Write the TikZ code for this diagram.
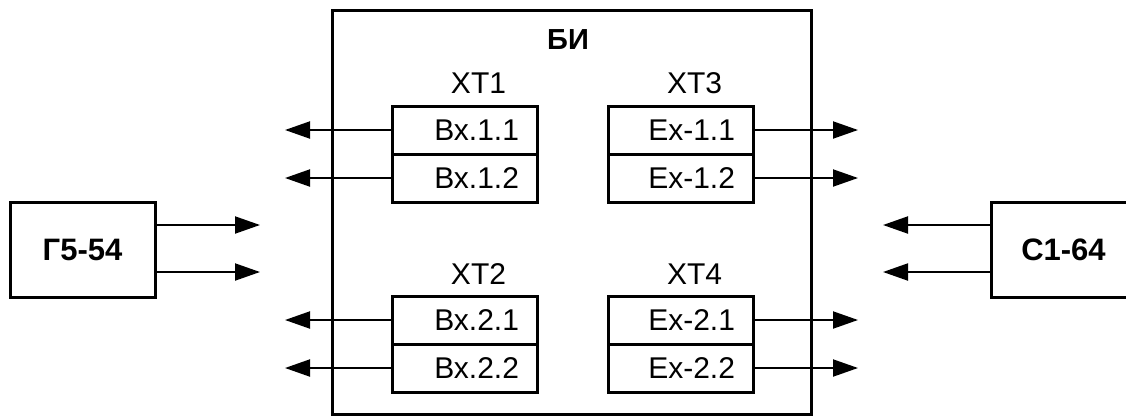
\documentclass[tikz,border=0pt]{standalone}
\usepackage{fontspec}
\setmainfont{Liberation Sans}
\usetikzlibrary{arrows.meta,positioning}

\begin{document}
\begin{tikzpicture}[x=1pt,y=-1pt]
    % `block' is used for the two instruments (left and right).
    % `pin' is one row of a terminal strip, `strip' its title.
    % `wire' is used for all the signal arrows.
    \tikzstyle{block} = [draw,line width=3pt,minimum width=145pt,minimum height=95pt,font=\fontsize{31}{35}\selectfont\bfseries]
    \tikzstyle{pin} = [draw,line width=3pt,outer sep=0pt,minimum height=48pt,inner xsep=18pt,inner ysep=0pt,text width=109pt,align=right,font=\fontsize{30}{34}\selectfont]
    \tikzstyle{strip} = [inner sep=0pt,font=\fontsize{30}{34}\selectfont]
    \tikzstyle{wire} = [line width=2pt,-{Triangle[length=25pt,width=17pt]}]
    \clip (0,0) rectangle (1126,416);
    %
    % Unit box.
    \node[draw,line width=3pt,minimum width=479pt,minimum height=404pt] (bi) at (571.5,212) {};
    \node[inner sep=0pt,font=\fontsize{29}{33}\selectfont\bfseries] (bititle) at (568,40) {БИ};
    %
    % Terminal strips.
    \node[pin] (b11) at (464.5,130) {Вх.1.1};
    \node[pin,below=0pt of b11] (b12) {Вх.1.2};
    \node[pin,below=94pt of b12] (b21) {Вх.2.1};
    \node[pin,below=0pt of b21] (b22) {Вх.2.2};
    \node[pin,right=71pt of b11] (e11) {Ex-1.1};
    \node[pin,below=0pt of e11] (e12) {Ex-1.2};
    \node[pin,right=71pt of b21] (e21) {Ex-2.1};
    \node[pin,below=0pt of e21] (e22) {Ex-2.2};
    \node[strip,above=12pt of b11,xshift=14pt] (xt1) {ХТ1};
    \node[strip,above=11pt of b21,xshift=14pt] (xt2) {ХТ2};
    \node[strip,above=12pt of e11,xshift=14pt] (xt3) {ХТ3};
    \node[strip,above=11pt of e21,xshift=14pt] (xt4) {ХТ4};
    %
    % Instruments.
    \node[block] (gen) at (82.5,249.5) {Г5-54};
    \node[block] (osc) at (1063.5,249.5) {С1-64};
    %
    % Signal arrows.
    \foreach \r in {11,12,21,22} {
      \coordinate (bo\r) at (285,0 |- b\r);
      \coordinate (eo\r) at (858,0 |- e\r);
      \draw[wire] (b\r) -- (bo\r);
      \draw[wire] (e\r) -- (eo\r);
    }
    \coordinate (go1) at (260,225);
    \coordinate (go2) at (260,272);
    \coordinate (co1) at (883,225);
    \coordinate (co2) at (883,272);
    \draw[wire] (gen.east |- go1) -- (go1);
    \draw[wire] (gen.east |- go2) -- (go2);
    \draw[wire] (osc.west |- co1) -- (co1);
    \draw[wire] (osc.west |- co2) -- (co2);
\end{tikzpicture}
\end{document}
